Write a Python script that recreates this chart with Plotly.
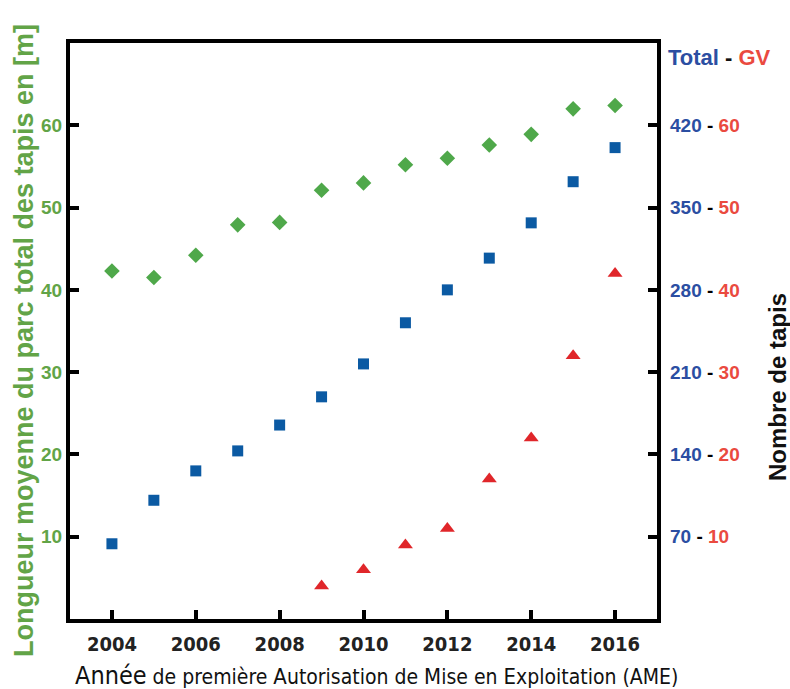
import plotly.graph_objects as go

years = list(range(2004, 2017))
longueur_moy = [42.3, 41.5, 44.2, 47.9, 48.2, 52.1, 53.0, 55.2, 56.0, 57.6, 58.9, 62.0, 62.4]
total_tapis = [64, 101, 126, 143, 165, 189, 217, 252, 280, 307, 337, 372, 401]
gv_years = list(range(2009, 2017))
gv_tapis = [4, 6, 9, 11, 17, 22, 32, 42]

x_ticks = [2004, 2006, 2008, 2010, 2012, 2014, 2016]
left_ticks = [10, 20, 30, 40, 50, 60]
right_total_ticks = [70, 140, 210, 280, 350, 420]
right_gv_ticks = [10, 20, 30, 40, 50, 60]

GREEN_T = "#62a447"
GREEN_M = "#4fa84a"
BLUE_T = "#2b4ea2"
BLUE_M = "#0b5aa3"
RED_T = "#ea4a3f"
RED_M = "#e0262a"

NARROW = "Liberation Sans Narrow, DejaVu Sans Condensed, Liberation Sans"

W, H = 790, 689
L, R, T, B = 70, 133, 43, 70
PW, PH = W - L - R, H - T - B

def px(xp):
    return (xp - L) / PW

def py(yp):
    return (H - B - yp) / PH

fig = go.Figure()
fig.add_trace(go.Scatter(x=years, y=longueur_moy, mode="markers", yaxis="y",
                         marker=dict(symbol="diamond", size=12, color=GREEN_M),
                         name="Longueur moyenne"))
fig.add_trace(go.Scatter(x=years, y=total_tapis, mode="markers", yaxis="y2",
                         marker=dict(symbol="square", size=11, color=BLUE_M),
                         name="Total"))
fig.add_trace(go.Scatter(x=gv_years, y=gv_tapis, mode="markers", yaxis="y3",
                         marker=dict(symbol="triangle-up", size=13, color=RED_M),
                         name="GV"))

right_text = [f"<span style='color:{BLUE_T}'>{a}</span> - <span style='color:{RED_T}'>{b}</span>"
              for a, b in zip(right_total_ticks, right_gv_ticks)]

fig.update_layout(
    width=W, height=H,
    margin=dict(l=L, r=R, t=T, b=B),
    paper_bgcolor="white", plot_bgcolor="white",
    showlegend=False,
    font=dict(family="Liberation Sans, Arial, sans-serif", color="black"),
    xaxis=dict(range=[2003, 2017], tickvals=x_ticks, ticks="inside", ticklen=9, tickwidth=4,
               tickcolor="black", showline=True, linewidth=4, linecolor="black", mirror=True,
               showgrid=False, zeroline=False,
               tickfont=dict(size=20, family=NARROW, color="#222", weight="bold"),
               ticklabelstandoff=4),
    yaxis=dict(range=[0, 70], tickvals=left_ticks, ticks="inside", ticklen=9, tickwidth=4,
               tickcolor="black", showline=True, linewidth=4, linecolor="black", mirror=True,
               showgrid=False, zeroline=False,
               tickfont=dict(size=19, color=GREEN_T, family="Liberation Sans, Arial, sans-serif",
                             weight="bold"),
               ticklabelstandoff=0),
    yaxis2=dict(range=[0, 490], overlaying="y", side="right", tickvals=right_total_ticks,
                ticktext=right_text, ticks="inside", ticklen=9, tickwidth=4, tickcolor="black",
                showline=False, showgrid=False, zeroline=False,
                tickfont=dict(size=19, color="black", family="Liberation Sans, Arial, sans-serif",
                              weight="bold"),
                ticklabelstandoff=12),
    yaxis3=dict(range=[0, 70], overlaying="y", side="right", visible=False),
)

annotations = [
    dict(text="<b>Longueur moyenne du parc total des tapis en [m]</b>", textangle=-90,
         x=px(24), y=py(341), xref="paper", yref="paper", xanchor="center", yanchor="middle",
         showarrow=False, font=dict(size=27, color=GREEN_T)),
    dict(text="<b>Nombre de tapis</b>", textangle=-90,
         x=px(777), y=py(387), xref="paper", yref="paper", xanchor="center", yanchor="middle",
         showarrow=False, font=dict(size=24, color="#111")),
    dict(text=f"<b><span style='color:{BLUE_T}'>Total</span> - <span style='color:{RED_T}'>GV</span></b>",
         x=px(666), y=py(57), xref="paper", yref="paper", xanchor="left", yanchor="middle",
         showarrow=False, font=dict(size=22, color="#111")),
    dict(text="<span style='font-size:25px'>Année</span> de première <span style='font-size:22px'>A</span>utorisation de <span style='font-size:22px'>M</span>ise en <span style='font-size:22px'>E</span>xploitation (AME)",
         x=px(376), y=py(675), xref="paper", yref="paper", xanchor="center", yanchor="middle",
         showarrow=False,
         font=dict(size=21, color="#111", family=NARROW)),
]
fig.update_layout(annotations=annotations)

fig.write_html("out.html", config={"displayModeBar": False},
               post_script="document.body.style.margin='0';document.body.style.overflow='hidden';")
